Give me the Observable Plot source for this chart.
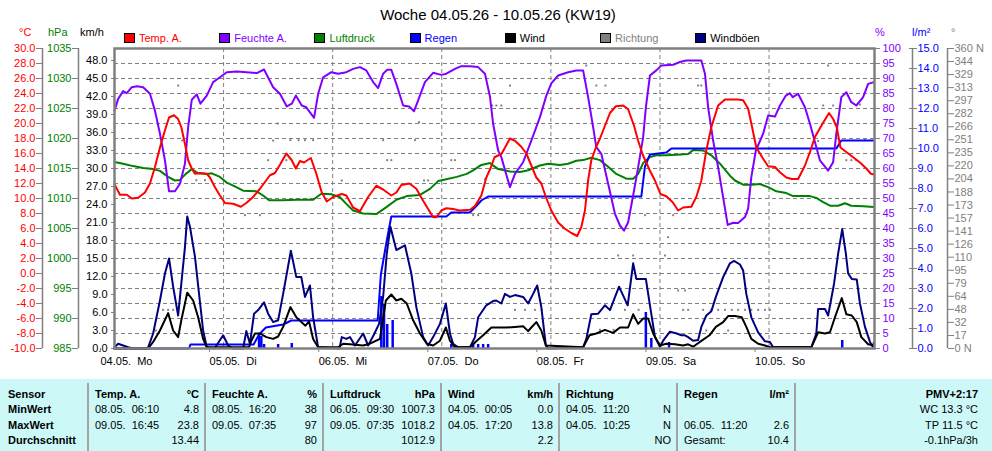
<!DOCTYPE html>
<html><head><meta charset="utf-8">
<script src="https://cdn.jsdelivr.net/npm/d3@7"></script>
<script src="https://cdn.jsdelivr.net/npm/@observablehq/plot@0.6"></script>
<style>
body{margin:0;background:#fff;font-family:"Liberation Sans",Arial,sans-serif;}
#wrap{position:relative;width:992px;height:451px;overflow:hidden;}
#chart{position:absolute;left:0;top:0;}
.abs{position:absolute;white-space:pre;font-size:11px;line-height:14px;}
.sq{position:absolute;width:11px;height:10px;box-sizing:border-box;border:1px solid #000;}
#tbl{position:absolute;left:0;top:379px;width:992px;height:72px;background:#ccf8f8;}
.sep{position:absolute;top:4px;width:2px;height:68px;background:#a4a4a4;}
.row{position:absolute;height:15.5px;line-height:15.5px;font-size:11px;white-space:pre;display:flex;justify-content:space-between;}
.b{font-weight:bold;}
</style></head><body>
<div id="wrap"><div id="chart"></div></div>
<script>
// ---------- data (hour since 04.05. 00:00, value) ----------
const temp = [[0,11.9],[1.2,10.5],[2.7,10.5],[3.8,10.0],[5.2,10.1],[6.7,10.8],[7.8,12.0],[8.9,14.2],[10.0,16.8],[11.1,19.1],[12.0,20.8],[13.1,21.1],[14.0,20.6],[14.7,19.5],[15.5,17.3],[16.2,15.1],[17.0,14.0],[17.7,13.3],[18.8,13.4],[20.3,13.3],[21.0,12.8],[22.1,11.5],[23.2,10.4],[24.3,9.4],[26.1,9.3],[27.8,8.9],[29.0,9.4],[30.5,10.2],[32.0,11.3],[33.1,12.2],[34.2,13.1],[35.3,13.4],[36.4,14.5],[37.8,16.0],[39.0,15.1],[39.9,14.0],[40.8,15.0],[41.7,14.8],[43.2,15.4],[44.4,13.3],[45.6,10.8],[46.7,9.6],[48.1,10.2],[50.0,10.6],[51.0,10.4],[52.5,8.8],[54.0,8.3],[55.8,10.2],[57.6,11.7],[59.1,11.2],[60.9,10.4],[62.0,10.8],[63.1,11.8],[64.9,12.0],[66.4,11.3],[67.9,9.7],[69.0,8.6],[70.1,7.5],[70.8,7.5],[71.9,8.4],[73.0,8.7],[74.5,8.6],[75.9,8.4],[78.2,8.5],[79.3,9.0],[80.7,10.4],[81.8,12.8],[82.7,14.0],[83.6,15.5],[84.6,15.8],[85.1,15.9],[87.0,18.0],[88.1,17.7],[89.5,16.9],[90.6,16.0],[91.7,14.4],[92.8,12.8],[93.9,12.0],[94.9,10.2],[96.1,8.4],[97.6,6.8],[99.0,6.0],[100.5,5.4],[101.8,5.0],[102.7,6.2],[103.5,8.4],[104.2,12.4],[104.9,15.1],[105.9,16.8],[106.8,18.0],[107.9,19.7],[109.0,21.4],[110.3,22.3],[111.9,22.4],[113.0,21.9],[114.3,19.7],[115.2,17.7],[116.3,15.7],[117.8,13.7],[118.9,12.4],[120.1,10.6],[121.4,10.3],[122.8,9.5],[124.0,8.4],[125.1,8.8],[126.9,8.9],[128.0,10.2],[129.1,12.4],[130.2,16.4],[131.3,19.5],[132.8,22.4],[134.3,23.2],[137.2,23.2],[138.3,23.1],[139.4,22.0],[140.1,20.0],[141.2,16.8],[142.7,15.3],[143.8,14.3],[145.3,14.2],[146.4,13.5],[147.8,12.8],[149.0,12.6],[150.4,12.6],[151.9,14.4],[153.0,16.2],[154.1,18.2],[155.5,19.7],[157.2,21.4],[158.1,20.6],[158.9,19.5],[159.7,16.8],[161.0,16.2],[162.5,15.5],[164.0,14.8],[165.4,14.0],[166.4,13.3],[167.1,13.2]];
const hum = [[0,79.3],[0.8,83.2],[1.9,85.8],[2.7,85.1],[3.8,87.1],[4.9,87.4],[6.3,87.1],[7.8,84.9],[8.9,79.3],[10.0,71.6],[11.1,62.7],[12.0,52.4],[13.3,52.4],[14.4,54.9],[15.5,61.6],[16.2,73.8],[17.0,82.9],[18.1,84.7],[18.9,81.6],[20.3,84.3],[21.7,88.8],[23.2,90.4],[24.7,92.1],[26.9,92.3],[29.1,92.1],[31.3,91.8],[32.9,93.0],[34.9,87.1],[36.4,84.9],[37.9,80.7],[39.0,81.6],[39.9,84.3],[41.2,81.0],[42.2,80.4],[43.9,76.9],[44.8,84.9],[45.9,90.4],[47.7,92.1],[49.2,91.6],[51.0,92.1],[52.5,93.2],[54.0,93.8],[55.4,92.7],[56.9,88.8],[58.0,86.8],[59.1,91.6],[60.0,92.9],[60.9,92.9],[62.0,88.2],[63.5,81.0],[64.8,80.7],[65.9,79.1],[66.8,82.7],[68.3,88.8],[70.1,91.9],[71.9,91.2],[73.0,91.6],[74.9,93.2],[76.3,94.1],[78.2,94.1],[80.0,93.8],[81.5,91.6],[82.6,84.0],[83.3,74.9],[84.4,66.0],[85.1,63.8],[87.0,53.8],[88.1,58.2],[89.9,62.1],[91.7,69.3],[93.6,77.1],[95.0,84.3],[96.1,88.4],[97.6,91.0],[99.8,92.1],[101.6,92.7],[103.1,92.7],[104.2,83.8],[105.3,73.8],[106.0,67.1],[107.1,64.9],[108.6,54.9],[110.1,44.9],[111.2,41.0],[112.1,39.3],[113.0,42.1],[114.1,51.0],[115.2,60.4],[116.3,70.4],[116.9,80.4],[117.8,91.0],[119.2,92.7],[120.3,94.3],[122.9,94.6],[124.4,95.5],[125.8,96.0],[129.1,96.0],[129.9,91.6],[130.6,80.4],[131.7,69.3],[132.8,60.4],[133.9,50.4],[134.9,41.2],[136.1,41.9],[137.2,41.8],[138.7,43.8],[139.4,46.6],[140.1,57.1],[141.1,66.0],[142.7,71.6],[143.8,77.7],[145.3,77.3],[146.4,81.0],[147.7,84.3],[148.6,85.1],[149.2,83.8],[150.4,84.9],[151.9,80.4],[153.0,74.9],[154.5,66.6],[155.2,62.7],[157.0,59.3],[158.1,62.1],[158.8,71.6],[159.9,83.8],[161.0,85.4],[162.1,82.1],[163.2,81.0],[164.7,83.8],[165.8,88.2],[167.1,88.8]];
const pres = [[0,1016.1],[1.9,1015.8],[4.1,1015.4],[6.3,1015.1],[8.5,1014.9],[10.0,1014.6],[11.8,1013.6],[13.3,1013.0],[14.4,1013.1],[15.7,1014.1],[17.0,1014.9],[18.4,1014.2],[20.3,1014.1],[21.4,1014.2],[23.2,1013.6],[24.6,1012.7],[26.8,1011.9],[28.3,1011.3],[31.2,1011.2],[32.7,1010.5],[34.0,1009.7],[37.1,1009.7],[40.0,1009.8],[43.7,1009.8],[45.5,1010.8],[47.7,1010.7],[49.6,1010.2],[51.0,1009.1],[52.5,1008.0],[54.7,1007.5],[57.6,1007.4],[59.9,1008.6],[62.0,1009.8],[64.3,1010.4],[67.2,1010.6],[69.4,1011.6],[71.2,1012.9],[73.0,1013.2],[75.3,1013.6],[77.5,1014.1],[78.9,1014.7],[80.7,1015.6],[82.6,1015.9],[84.4,1014.9],[87.0,1014.5],[89.2,1014.4],[91.0,1014.7],[93.6,1015.5],[95.4,1015.8],[98.0,1015.6],[99.8,1015.8],[101.6,1016.3],[103.1,1016.4],[104.9,1016.8],[106.8,1016.4],[108.6,1015.3],[110.4,1014.1],[112.6,1013.3],[114.1,1013.3],[115.2,1014.1],[116.3,1015.9],[117.8,1016.9],[119.2,1017.2],[121.4,1017.2],[123.6,1017.3],[126.2,1017.4],[127.3,1018.1],[129.5,1018.0],[131.3,1017.2],[133.2,1015.8],[135.4,1013.8],[136.5,1013.0],[138.3,1012.3],[140.1,1012.3],[142.0,1012.4],[143.8,1011.9],[145.6,1011.2],[147.8,1010.9],[149.3,1010.4],[153.0,1010.4],[154.4,1010.1],[155.9,1009.4],[157.4,1008.8],[159.2,1008.8],[160.7,1009.2],[162.1,1008.8],[164.7,1008.7],[167.1,1008.6]];
const rainSum = [[0,0],[16.4,0],[16.7,0.2],[30.6,0.2],[31.8,0.7],[33.3,1.05],[37.1,1.2],[38.9,1.4],[57.9,1.4],[58.6,3.7],[59.9,5.4],[60.9,6.6],[73.0,6.6],[74.1,6.8],[78.2,6.8],[79.7,7.15],[80.7,7.4],[82.2,7.6],[115.9,7.6],[116.7,9.1],[117.8,9.7],[121.4,9.8],[122.5,10.0],[158.8,10.0],[159.9,10.4],[167.1,10.4]];
const rainBars = [[31.8,0.65],[32.3,0.6],[32.9,0.2],[36.0,0.2],[39.0,0.25],[58.7,2.6],[59.3,2.2],[60.0,1.2],[61.2,1.4],[74.1,0.2],[78.9,0.2],[80.0,0.2],[81.1,0.2],[82.2,0.2],[116.9,1.8],[118.1,0.5],[122.0,0.3],[160.1,0.4]];
const gust = [[0,0.2],[0.8,0.8],[1.9,0.5],[3.0,0.2],[4.1,0],[7.1,0],[7.4,0.2],[8.5,2.5],[10.0,8.0],[11.1,12.5],[12.0,15.0],[12.9,10.3],[14.0,5.5],[14.7,10.8],[15.5,16.9],[16.0,22.0],[16.6,20.3],[17.7,15.3],[18.6,9.1],[19.5,3.0],[20.3,0.2],[22.0,0],[23.9,2.2],[25.0,0.5],[26.1,0],[28.3,0],[29.0,2.9],[29.8,0.8],[30.7,5.8],[31.6,6.4],[32.9,7.7],[33.8,5.8],[34.9,4.4],[36.0,4.7],[37.1,9.1],[38.8,16.3],[40.0,11.9],[41.1,11.9],[41.9,8.6],[43.0,10.5],[43.7,5.2],[44.8,0.2],[49.5,0],[50.0,1.9],[51.0,1.6],[51.8,1.9],[52.9,0.5],[54.7,2.5],[55.8,0.5],[57.0,2.2],[58.2,4.1],[59.1,8.6],[59.9,15.8],[60.7,20.3],[62.0,16.4],[63.9,17.2],[65.3,12.5],[66.4,6.9],[67.9,1.9],[69.0,0.5],[70.1,1.9],[71.6,4.1],[72.9,7.5],[73.8,2.5],[74.5,0.8],[75.6,0.2],[78.2,0.2],[79.3,1.9],[80.0,5.2],[81.8,7.2],[83.3,7.9],[84.0,8.0],[85.1,7.5],[85.9,9.1],[87.0,8.6],[88.1,8.9],[89.9,8.6],[91.0,7.5],[92.1,9.1],[93.0,10.5],[93.9,6.9],[94.9,0.5],[95.4,0],[103.1,0.2],[103.8,1.6],[104.9,5.7],[106.4,5.8],[107.9,7.2],[109.0,6.4],[111.0,10.3],[112.9,7.2],[114.1,14.2],[114.8,11.6],[116.9,11.6],[117.8,7.2],[118.9,1.9],[120.0,0.3],[120.7,1.3],[122.2,2.8],[123.7,2.5],[124.7,2.2],[125.5,2.2],[126.2,1.9],[127.3,1.3],[128.4,1.4],[129.1,3.6],[130.2,5.5],[131.3,6.2],[132.3,8.6],[133.9,11.9],[135.4,14.2],[136.3,14.6],[137.6,14.0],[138.3,13.0],[139.0,9.1],[140.1,5.2],[141.6,2.7],[143.1,1.2],[144.2,1.1],[144.9,0.2],[153.3,0.2],[154.4,2.5],[154.8,6.6],[156.3,6.6],[157.0,5.5],[158.3,10.8],[159.2,15.8],[160.1,19.9],[160.9,15.8],[161.4,12.5],[162.2,11.6],[163.3,11.5],[164.0,7.5],[165.1,3.6],[166.2,1.1],[166.8,0.3],[167.1,1.1]];
const wind = [[0,0],[7.4,0],[8.5,1.1],[10.0,3.0],[11.8,5.9],[12.9,3.0],[14.0,1.9],[14.7,4.7],[16.0,9.3],[17.3,8.0],[18.4,5.2],[19.5,1.6],[20.3,0.2],[29.6,0.2],[30.0,1.1],[30.9,2.5],[32.0,2.5],[33.4,1.9],[34.9,1.6],[36.0,2.0],[37.1,3.6],[38.7,6.9],[40.0,5.2],[41.1,4.4],[42.0,3.8],[42.8,4.5],[43.7,1.6],[44.8,0.2],[49.2,0.2],[50.3,0.8],[51.8,0.7],[54.7,0.5],[56.2,0.8],[58.4,1.6],[59.7,8.0],[60.9,9.0],[62.0,8.0],[63.1,8.3],[64.3,7.5],[65.7,4.7],[67.2,2.5],[68.7,0.8],[70.1,0.5],[71.6,1.3],[72.9,3.5],[73.8,1.3],[74.9,0.2],[78.2,0.2],[79.7,1.3],[81.1,2.2],[82.9,3.5],[86.2,3.5],[88.1,3.6],[89.9,3.7],[91.0,2.9],[91.7,3.5],[92.8,4.4],[93.9,3.0],[94.9,0.5],[103.1,0.2],[104.5,2.2],[106.0,2.5],[107.9,3.1],[109.7,2.6],[111.2,3.5],[113.0,3.5],[114.1,5.7],[115.2,4.1],[116.3,5.0],[117.4,5.0],[118.5,2.5],[120.0,0.5],[121.4,0.8],[123.3,0.7],[125.1,0.5],[126.2,0.7],[127.3,0.3],[128.8,1.1],[130.9,2.2],[132.3,3.6],[133.9,4.4],[135.0,5.4],[136.5,5.4],[138.0,5.2],[139.0,3.6],[140.1,1.6],[141.6,0.8],[143.1,0.5],[144.2,0.2],[153.3,0.2],[154.8,2.7],[156.3,2.5],[157.4,2.7],[158.5,5.2],[160.0,8.4],[161.0,5.7],[162.2,5.5],[163.3,4.4],[164.3,1.9],[165.8,0.7],[167.1,0.5]];
const dir = [[9.1,21.6],[10.7,46.4],[11.8,46.4],[12.9,46.4],[14.0,315.6],[14.9,249.6],[18.0,202],[19.9,202],[28.7,160],[30.5,201],[32.0,160],[33.8,226],[34.9,249.6],[35.9,270],[37.8,226],[38.7,250],[40.5,250],[41.9,250],[43.7,250],[50.0,201.6],[59.1,250],[60.0,226],[60.9,226],[66.1,250],[67.0,271.6],[68.1,201.6],[69.0,201.6],[74.1,226],[74.9,226],[78.9,160],[80.0,160],[81.5,203],[83.1,291.6],[84.0,291.6],[85.1,291.6],[87.0,315.6],[88.1,46.4],[90.3,46.4],[92.5,46.4],[94.0,46.4],[103.8,339.6],[106.0,315.6],[106.8,22.4],[108.0,315.6],[109.8,22.4],[110.8,111.6],[112.3,46.4],[114.1,111.6],[115.3,46.4],[116.7,160],[121.1,111.6],[121.8,133.6],[122.9,160],[124.0,69.6],[125.1,46.4],[125.5,69.6],[126.2,46.4],[128.4,315.6],[129.1,315.6],[129.5,46.4],[130.2,21.6],[131.3,46.4],[131.7,21.6],[132.8,46.4],[134.3,46.4],[135.0,21.6],[135.8,46.4],[137.2,46.4],[138.7,46.4],[140.1,46.4],[141.6,46.4],[143.1,46.4],[144.2,46.4],[154.8,249],[155.9,291.6],[157.0,339.6],[158.1,291.6],[161.0,226],[162.1,226],[163.2,226],[164.0,292.8],[165.1,250]];

// ---------- tick labels ----------
const celsiusTicks = [-10,-8,-6,-4,-2,0,2,4,6,8,10,12,14,16,18,20,22,24,26,28,30];
const hpaTicks = [985,990,995,1000,1005,1010,1015,1020,1025,1030,1035];
const kmhTicks = [0,3,6,9,12,15,18,21,24,27,30,33,36,39,42,45,48];
const pctTicks = [0,5,10,15,20,25,30,35,40,45,50,55,60,65,70,75,80,85,90,95,100];
const rainTicks = [0,1,2,3,4,5,6,7,8,9,10,11,12,13,14,15];
const dirLabels = ["0 N","17","32","48","64","79","95","110","126","141","157","173","188","204","220","235","251","266","282","297","313","329","344","360 N"];
const dayTicks = [0,24,48,72,96,120,144];
const dayLabels = ["04.05.\u00a0 Mo","05.05.\u00a0 Di","06.05.\u00a0 Mi","07.05.\u00a0 Do","08.05.\u00a0 Fr","09.05.\u00a0 Sa","10.05.\u00a0 So"];
const gridLevels = [5,10,15,20,25,30,35,40,45,50,55,60,65,70,75,80,85,90,95];
const xEnd = 167.2;

// ---------- scale transforms onto the shared 0..100 (%) axis ----------
const nT = t => (t + 10) * 2.5;
const nP = p => (p - 985) * 2;
const nW = w => w * 2;
const nR = r => r * 100 / 15;
const nD = d => d * 100 / 360;

const GRAY = "#808080";
const C = {temp:"#ff0000", hum:"#8000ff", pres:"#008000", rain:"#0000ff", wind:"#000000", dir:"#808080", gust:"#000080"};

const chart = Plot.plot({
  width: 992, height: 378,
  marginLeft: 114, marginRight: 118, marginTop: 48, marginBottom: 30,
  x: {domain: [0, xEnd]},
  y: {domain: [0, 100]},
  style: {fontFamily: "'Liberation Sans', Arial, sans-serif", fontSize: "11px", background: "transparent", overflow: "visible"},
  marks: [
    Plot.ruleY(gridLevels, {stroke: GRAY, strokeDasharray: "4,3", strokeWidth: 1}),
    Plot.ruleX(dayTicks.slice(1), {stroke: GRAY, strokeDasharray: "4,3", strokeWidth: 1}),
    Plot.dot(dir, {x: d => d[0], y: d => nD(d[1]), r: 1.1, symbol: "square", fill: C.dir, stroke: null}),
    Plot.ruleX(rainBars, {x: d => d[0], y1: 0, y2: d => nR(d[1]), stroke: C.rain, strokeWidth: 2.5}),
    Plot.line(pres, {x: d => d[0], y: d => nP(d[1]), stroke: C.pres, strokeWidth: 2}),
    Plot.line(rainSum, {x: d => d[0], y: d => nR(d[1]), stroke: C.rain, strokeWidth: 2}),
    Plot.line(hum, {x: d => d[0], y: d => d[1], stroke: C.hum, strokeWidth: 2}),
    Plot.line(temp, {x: d => d[0], y: d => nT(d[1]), stroke: C.temp, strokeWidth: 2}),
    Plot.line(gust, {x: d => d[0], y: d => nW(d[1]), stroke: C.gust, strokeWidth: 2}),
    Plot.line(wind, {x: d => d[0], y: d => nW(d[1]), stroke: C.wind, strokeWidth: 2}),
    Plot.frame({stroke: GRAY, strokeWidth: 2.5}),
    // left axes
    Plot.ruleX([0], {dx: -72, stroke: GRAY, strokeWidth: 1.5}),
    Plot.axisY(celsiusTicks.map(nT), {anchor: "left", dx: -72, tickSize: 6, tickPadding: 1, stroke: GRAY, fill: C.temp, tickFormat: v => (v / 2.5 - 10).toFixed(1)}),
    Plot.ruleX([0], {dx: -36, stroke: GRAY, strokeWidth: 1.5}),
    Plot.axisY(hpaTicks.map(nP), {anchor: "left", dx: -36, tickSize: 6, tickPadding: 1, stroke: GRAY, fill: C.pres, tickFormat: v => String(Math.round(v / 2 + 985))}),
    Plot.axisY(kmhTicks.map(nW), {anchor: "left", tickSize: 3, tickPadding: 4, stroke: GRAY, fill: "#000", tickFormat: v => (v / 2).toFixed(1)}),
    // right axes
    Plot.axisY(pctTicks, {anchor: "right", tickSize: 5, tickPadding: 3, stroke: GRAY, fill: C.hum, tickFormat: v => String(Math.round(v))}),
    Plot.ruleX([xEnd], {dx: 38, stroke: GRAY, strokeWidth: 1.5}),
    Plot.axisY(rainTicks.map(nR), {anchor: "right", dx: 34, tickSize: 8, tickPadding: 1, stroke: GRAY, fill: C.rain, tickFormat: v => (v * 15 / 100).toFixed(1)}),
    Plot.ruleX([xEnd], {dx: 73, stroke: GRAY, strokeWidth: 1.5}),
    Plot.axisY(dirLabels.map((_, i) => i * 100 / 23), {anchor: "right", dx: 73, tickSize: 6, tickPadding: 1, stroke: GRAY, fill: C.dir, tickFormat: v => dirLabels[Math.round(v * 23 / 100)]}),
    // x axis
    Plot.axisX(dayTicks, {anchor: "bottom", tickSize: 4, tickPadding: 5, stroke: GRAY, fill: "#000", textAnchor: "start", dx: -14, tickFormat: v => dayLabels[Math.round(v / 24)]})
  ]
});
document.getElementById("chart").appendChild(chart);

// ---------- title, unit labels, legend ----------
const wrap = document.getElementById("wrap");
function addText(txt, left, top, color, extra) {
  const d = document.createElement("div");
  d.className = "abs"; d.textContent = txt;
  d.style.left = left + "px"; d.style.top = top + "px"; d.style.color = color;
  if (extra) Object.assign(d.style, extra);
  wrap.appendChild(d); return d;
}
const title = "Woche 04.05.26 - 10.05.26 (KW19)";
addText(title, 0, 6, "#000", {width: "996px", textAlign: "center", fontSize: "15px", lineHeight: "18px"});

const units = [["°C", 19, C.temp], ["hPa", 48, C.pres], ["km/h", 80, "#000"], ["%", 875, C.hum], ["l/m²", 912, C.rain], ["°", 951, C.dir]];
units.forEach(([t, x, c]) => addText(t, x, 25, c));

const legendNames = ["Temp. A.", "Feuchte A.", "Luftdruck", "Regen", "Wind", "Richtung", "Windböen"];
const legendColors = [C.temp, C.hum, C.pres, C.rain, C.wind, C.dir, C.gust];
const legendTextColors = [C.temp, C.hum, C.pres, C.rain, "#000", C.dir, "#000"];
legendNames.forEach((n, i) => {
  const x = 124 + i * 95.2;
  const s = document.createElement("div");
  s.className = "sq"; s.style.left = x + "px"; s.style.top = "33px"; s.style.background = legendColors[i];
  wrap.appendChild(s);
  addText(n, x + 15, 31, legendTextColors[i]);
});

// ---------- statistics table ----------
const rowNames = ["Sensor", "MinWert", "MaxWert", "Durchschnitt"];
const colHeads = [["Temp. A.", "°C"], ["Feuchte A.", "%"], ["Luftdruck", "hPa"], ["Wind", "km/h"], ["Richtung", ""], ["Regen", "l/m²"]];
const colRows = [
  [["08.05.  06:10", "4.8"], ["09.05.  16:45", "23.8"], ["", "13.44"]],
  [["08.05.  16:20", "38"], ["09.05.  07:35", "97"], ["", "80"]],
  [["06.05.  09:30", "1007.3"], ["09.05.  07:35", "1018.2"], ["", "1012.9"]],
  [["04.05.  00:05", "0.0"], ["04.05.  17:20", "13.8"], ["", "2.2"]],
  [["04.05.  11:20", "N"], ["04.05.  10:25", "N"], ["", "NO"]],
  [["", ""], ["06.05.  11:20", "2.6"], ["Gesamt:", "10.4"]]
];
const extraLines = ["PMV+2:17", "WC 13.3 °C", "TP 11.5 °C", "-0.1hPa/3h"];
const colEdges = [88, 205, 323, 441, 559, 677, 795];

const tbl = document.createElement("div"); tbl.id = "tbl"; wrap.appendChild(tbl);
colEdges.forEach(x => { const s = document.createElement("div"); s.className = "sep"; s.style.left = (x - 1) + "px"; tbl.appendChild(s); });
const rowTop = i => 7.5 + i * 15.5;
function addRow(left, width, i, l, r, bold) {
  const d = document.createElement("div");
  d.className = "row" + (bold ? " b" : "");
  d.style.left = left + "px"; d.style.width = width + "px"; d.style.top = rowTop(i) + "px";
  const a = document.createElement("span"); a.textContent = l;
  const b = document.createElement("span"); b.textContent = r;
  d.appendChild(a); d.appendChild(b); tbl.appendChild(d);
}
rowNames.forEach((n, i) => addRow(8, 78, i, n, "", true));
colHeads.forEach((h, c) => {
  const left = colEdges[c] + 7, width = colEdges[c + 1] - colEdges[c] - 13;
  addRow(left, width, 0, h[0], h[1], true);
  colRows[c].forEach((r, i) => addRow(left, width, i + 1, r[0], r[1], false));
});
extraLines.forEach((t, i) => {
  const d = document.createElement("div");
  d.className = "row" + (i === 0 ? " b" : "");
  d.style.left = "800px"; d.style.width = "178px"; d.style.top = rowTop(i) + "px";
  d.style.justifyContent = "flex-end"; d.textContent = t; tbl.appendChild(d);
});
</script>
</body></html>
